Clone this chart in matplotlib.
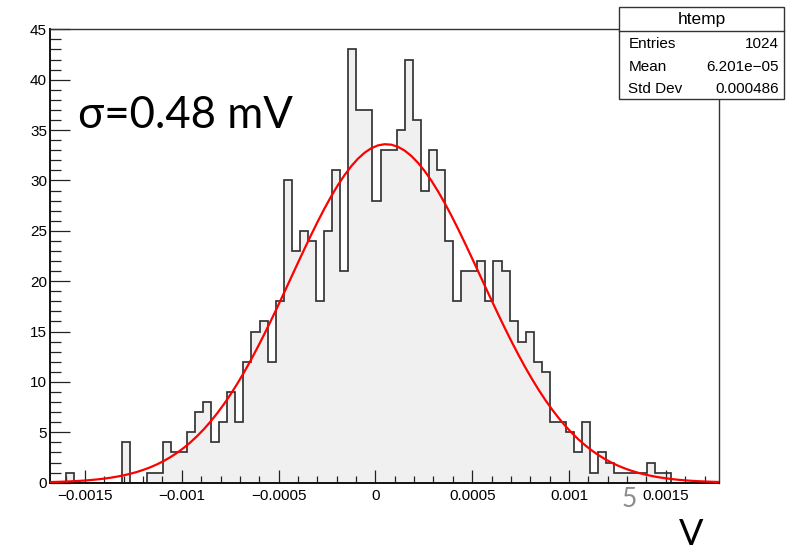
import numpy as np
import matplotlib
matplotlib.use("Agg")
import matplotlib.pyplot as plt
from matplotlib.patches import Rectangle
from matplotlib.lines import Line2D
from matplotlib.ticker import FixedLocator, MultipleLocator

# ---------------- data ----------------
counts = [0, 0, 1, 0, 0, 0, 0, 0, 0, 4,
          0, 0, 1, 1, 4, 3, 3, 5, 7, 8,
          4, 6, 9, 6, 12, 15, 16, 12, 18, 30,
          23, 25, 24, 18, 25, 31, 21, 43, 37, 37,
          28, 33, 33, 35, 42, 36, 29, 33, 31, 24,
          18, 21, 21, 22, 18, 22, 21, 16, 14, 15,
          12, 11, 6, 6, 5, 3, 6, 1, 3, 2,
          1, 1, 1, 1, 2, 1, 1, 0, 0, 0,
          0, 0, 0]
x_min = -0.001682
bin_width = 4.1667e-5
n_bins = len(counts)

fit_amp = 33.6
fit_mean = 5.5e-5
fit_sigma = 4.9e-4

xtick_vals = [-0.0015, -0.001, -0.0005, 0.0, 0.0005, 0.001, 0.0015]
xtick_labels = ["\u22120.0015", "\u22120.001", "\u22120.0005", "0", "0.0005", "0.001", "0.0015"]
ytick_vals = [0, 5, 10, 15, 20, 25, 30, 35, 40, 45]

stats_title = "htemp"
stats_rows = [("Entries", "1024"), ("Mean", "6.201e\u221205"), ("Std Dev", "0.000486")]

# ---------------- figure ----------------
W, H = 787, 552
fig = plt.figure(figsize=(W / 100, H / 100), dpi=100)

def fx(x):
    return x / W

def fy(y):
    return 1 - y / H

ax_l, ax_r, ax_t, ax_b = 49.8, 719.3, 29.3, 482.7
ax = fig.add_axes([fx(ax_l), fy(ax_b), (ax_r - ax_l) / W, (ax_b - ax_t) / H])

edges = x_min + bin_width * np.arange(n_bins + 1)
x_max = edges[-1]

ax.stairs(counts, edges, fill=True, facecolor="#f0f0f0", edgecolor="none", baseline=0, zorder=1)
ax.stairs(counts, edges, fill=False, color="#333333", linewidth=1.25, baseline=0, zorder=2)

xf = np.linspace(x_min, x_max, 101)
yf = fit_amp * np.exp(-0.5 * ((xf - fit_mean) / fit_sigma) ** 2)
ax.plot(xf, yf, color="#ff0000", linewidth=1.6, zorder=3)

ax.set_xlim(x_min, x_max)
ax.set_ylim(0, 45)

ax.xaxis.set_major_locator(FixedLocator(xtick_vals))
ax.set_xticklabels(xtick_labels)
ax.xaxis.set_minor_locator(MultipleLocator(0.0001))
ax.yaxis.set_major_locator(FixedLocator(ytick_vals))
ax.yaxis.set_minor_locator(MultipleLocator(1))

lab_font = "Liberation Sans"
ax.tick_params(axis="x", which="major", direction="in", length=9.4, width=0.9,
               color="#222222", pad=4.2, labelsize=11, top=False)
ax.tick_params(axis="x", which="minor", direction="in", length=4.7, width=0.9,
               color="#222222", top=False)
ax.tick_params(axis="y", which="major", direction="in", length=14.4, width=0.9,
               color="#222222", pad=2.0, labelsize=11, right=False)
ax.tick_params(axis="y", which="minor", direction="in", length=7.7, width=0.9,
               color="#222222", right=False)
for lab in ax.get_xticklabels() + ax.get_yticklabels():
    lab.set_fontfamily(lab_font)

for side in ["left", "bottom"]:
    ax.spines[side].set_linewidth(1.4)
    ax.spines[side].set_color("#111111")
for side in ["top", "right"]:
    ax.spines[side].set_linewidth(1.0)
    ax.spines[side].set_color("#333333")

# ---------------- stats box ----------------
bx0, bx1, by0, by1 = 619.3, 784.3, 7.3, 98.7
fig.patches.append(Rectangle((fx(bx0), fy(by1)), (bx1 - bx0) / W, (by1 - by0) / H,
                             transform=fig.transFigure, facecolor="white",
                             edgecolor="#333333", linewidth=1.0, zorder=5))
fig.lines.append(Line2D([fx(bx0), fx(bx1)], [fy(30.7), fy(30.7)],
                        transform=fig.transFigure, color="#333333", linewidth=1.0, zorder=6))
fig.text(fx((bx0 + bx1) / 2), fy(24.0), stats_title, ha="center", va="baseline",
         fontsize=12.5, family=lab_font, zorder=7)
row_base = [47.7, 70.8, 93.4]
for (name, val), yb in zip(stats_rows, row_base):
    fig.text(fx(628.3), fy(yb), name, ha="left", va="baseline", fontsize=11,
             family=lab_font, zorder=7)
    fig.text(fx(778.5), fy(yb), val, ha="right", va="baseline", fontsize=11,
             family=lab_font, zorder=7)

# ---------------- annotations ----------------
fig.text(fx(78.3), fy(128.3), "\u03c3=0.48 mV", ha="left", va="baseline",
         fontsize=31.5, family=["Lato", "DejaVu Sans"], color="black", zorder=7)
fig.text(fx(621.7), fy(507), "5", ha="left", va="baseline",
         fontsize=19, family=["Lato", "DejaVu Sans"], color="#8c8c8c", zorder=7)
fig.text(fx(679), fy(551), "V", ha="left", va="bottom",
         fontsize=26, family=["Lato", "DejaVu Sans"], color="black", zorder=7)

fig.savefig("out.png", dpi=100)
